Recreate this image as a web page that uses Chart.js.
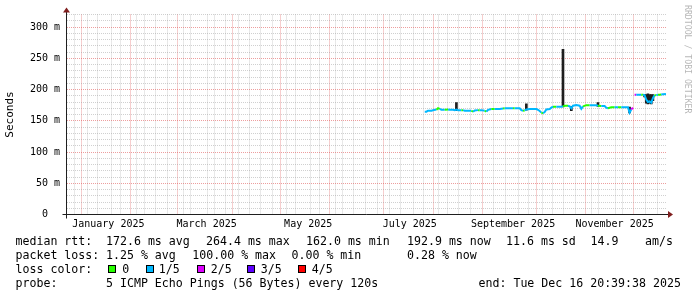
<!DOCTYPE html>
<html><head><meta charset="utf-8">
<script src="https://cdn.jsdelivr.net/npm/chart.js@4.4.1/dist/chart.umd.min.js"></script>
<style>html,body{margin:0;padding:0;background:#fff;overflow:hidden}canvas{display:block}</style>
</head><body>
<canvas id="c" width="697" height="297" style="width:697px;height:297px"></canvas>
<script>
// ---- data ----
const dates = ['2025-07-25','2025-07-26','2025-07-27','2025-07-29','2025-07-31','2025-08-01','2025-08-02','2025-08-03','2025-08-04','2025-08-06',
'2025-08-08','2025-08-09','2025-08-11','2025-08-12','2025-08-13','2025-08-14','2025-08-16','2025-08-17','2025-08-18','2025-08-20',
'2025-08-22','2025-08-23','2025-08-24','2025-08-26','2025-08-27','2025-08-28','2025-08-30','2025-08-31','2025-09-01','2025-09-03',
'2025-09-05','2025-09-06','2025-09-08','2025-09-10','2025-09-11','2025-09-12','2025-09-14','2025-09-16','2025-09-17','2025-09-18',
'2025-09-20','2025-09-21','2025-09-22','2025-09-23','2025-09-24','2025-09-26','2025-09-28','2025-09-30','2025-10-01','2025-10-02',
'2025-10-03','2025-10-04','2025-10-05','2025-10-06','2025-10-08','2025-10-09','2025-10-10','2025-10-12','2025-10-13','2025-10-15',
'2025-10-16','2025-10-17','2025-10-19','2025-10-20','2025-10-21','2025-10-22','2025-10-24','2025-10-26','2025-10-27','2025-10-28',
'2025-10-30','2025-11-01','2025-11-03','2025-11-05','2025-11-06','2025-11-08','2025-11-10','2025-11-11','2025-11-12','2025-11-14',
'2025-11-16','2025-11-18','2025-11-20','2025-11-22','2025-11-24','2025-11-25','2025-11-26','2025-11-27','2025-11-27T14:00','2025-11-28',
'2025-11-29','2025-11-30','2025-12-02','2025-12-03','2025-12-04','2025-12-05','2025-12-06','2025-12-07','2025-12-08','2025-12-09',
'2025-12-10','2025-12-11','2025-12-12','2025-12-13','2025-12-14','2025-12-15','2025-12-16T20:00'];
const medianMs = [164.5,164.5,166,166,167.5,167.5,170,169,167.5,167.5,
168,167.5,167.5,167,168,167,167,167,166,166,
166,164.5,166.5,167,167,167,166,164.5,167.5,168.8,
168.8,168.8,168.8,169.5,170,170,170,170,170,170,
170,167,166,166.5,168,168.8,168.8,168.8,167.5,165.5,
163,162.0,164,168,168.8,171,172.5,172.5,172.5,172.5,
173,174,174,173,170,174,175,174,169,173,
175,175,175,175,174,173.6,173.6,171,170,171.5,
171.5,171.5,171.5,171.5,171.5,163,168,171,null,191.5,
191.5,191.7,191.7,191.5,191,184,180,181,179,186,
191,191,191.5,191.5,192,192.5,192.9];
const lossPings = [1,1,1,1,1,1,0,0,1,1,
0,1,1,1,1,1,1,0,1,1,
1,0,1,1,0,1,1,0,1,1,
0,1,1,1,0,1,1,1,0,1,
1,1,1,0,1,1,1,1,1,1,
1,0,1,1,1,1,1,0,1,1,
1,0,0,1,1,1,1,1,1,1,
0,0,1,1,1,0,1,1,1,0,
0,1,0,1,1,1,1,2,0,2,
2,1,1,0,1,1,1,1,1,1,
1,0,1,0,0,1,1];
const smokeDates = ['2025-08-13','2025-09-24','2025-10-16','2025-10-21','2025-11-06','2025-11-25','2025-12-04','2025-12-05','2025-12-06','2025-12-07','2025-12-08','2025-12-09'];
const smokeLow  = [166,167,172,166,173,162.5,188,178,177,178,177,182];
const smokeHigh = [179,177,264.4,173,179,172,192,192,193,192,192,192];
const yTickValues = [0,10,20,30,40,50,60,70,80,90,100,110,120,130,140,150,160,170,180,190,200,210,220,230,240,250,260,270,280,290,300,310,320];
const yLabelEvery = 50;
const monthStarts = ['2025-01-01','2025-02-01','2025-03-01','2025-04-01','2025-05-01','2025-06-01','2025-07-01','2025-08-01','2025-09-01','2025-10-01','2025-11-01','2025-12-01'];
const monthLabelDates = ['2025-01-16','2025-03-16','2025-05-16','2025-07-16','2025-09-16','2025-11-16'];
const monthLabels = ['January 2025','March 2025','May 2025','July 2025','September 2025','November 2025'];
const lossLabels = ['0','1/5','2/5','3/5','4/5'];
const lossColors = ['#26ff00','#00b8ff','#dd00ff','#5e00ff','#ff0000'];
const endStamp = Date.UTC(2025,11,16,20,39,38);
const spanDays = 360;

// ---- helpers ----
const DAY = 864e5, T0 = Date.UTC(2025,0,1);
const toDay = s => (Date.parse(s.length === 10 ? s + 'T00:00:00Z' : s + ':00Z') - T0) / DAY;
const xMax = (endStamp - T0) / DAY, xMin = xMax - spanDays;
const majorSet = new Set(monthStarts.map(toDay));
const labelMap = new Map(monthLabelDates.map((d,i)=>[toDay(d), monthLabels[i]]));
const mondays = [];
for (let d = 5; d >= xMin; d -= 7) mondays.push(d);
for (let d = 12; d <= xMax; d += 7) mondays.push(d);
const xTickValues = [...new Set([...mondays, ...majorSet, ...labelMap.keys()])].sort((a,b)=>a-b);

const MONO = '"DejaVu Sans Mono", monospace';
const GRID = 'rgba(143,143,143,0.42)';
const MGRID = 'rgba(222,79,79,0.55)';
const CLEAR = 'rgba(0,0,0,0)';

const lineData = dates.map((d,i)=>({x: toDay(d), y: medianMs[i]}));
const smokeData = smokeDates.map((d,i)=>({x: toDay(d), y: [smokeLow[i], smokeHigh[i]]}));

const legendRows = [
  {y:245, items:[[15.5,'median rtt:'],[106,'172.6 ms avg'],[206,'264.4 ms max'],[306,'162.0 ms min'],[407,'192.9 ms now'],[506,'11.6 ms sd'],[590.5,'14.9'],[645,'am/s']]},
  {y:259, items:[[15.5,'packet loss:'],[106,'1.25 % avg'],[192.3,'100.00 % max'],[291.5,'0.00 % min'],[407,'0.28 % now']]},
  {y:273, items:[[15.5,'loss color:']]},
  {y:287, items:[[15.5,'probe:'],[106,'5 ICMP Echo Pings (56 Bytes) every 120s'],[478.5,'end: Tue Dec 16 20:39:38 2025']]}
];
const swatchX = [108,146,197,247,298];
const swatchTextX = [122.3,158.8,210.7,260.7,311.7];

const xGridColor = c => {
  const v = c && c.tick ? c.tick.value : null;
  if (v === null) return GRID;
  if (labelMap.has(v)) return CLEAR;
  return majorSet.has(v) ? MGRID : GRID;
};
const yGridColor = c => {
  const v = c && c.tick ? c.tick.value : null;
  if (v === null) return GRID;
  return (v % yLabelEvery === 0) ? MGRID : GRID;
};

const overlay = {
  id: 'overlay',
  afterDraw(chart) {
    const ctx = chart.ctx, a = chart.chartArea;
    ctx.save();
    ctx.strokeStyle = '#1f1f1f'; ctx.lineWidth = 1;
    ctx.beginPath();
    ctx.moveTo(a.left - 4, a.bottom); ctx.lineTo(a.right + 4, a.bottom);
    ctx.moveTo(a.left, a.bottom + 4); ctx.lineTo(a.left, a.top - 4);
    ctx.stroke();
    ctx.fillStyle = '#801f1f';
    ctx.beginPath();
    ctx.moveTo(a.right + 2, a.bottom - 3.5); ctx.lineTo(a.right + 2, a.bottom + 3.5); ctx.lineTo(a.right + 7, a.bottom); ctx.closePath(); ctx.fill();
    ctx.beginPath();
    ctx.moveTo(a.left - 3.5, a.top - 2); ctx.lineTo(a.left + 3.5, a.top - 2); ctx.lineTo(a.left, a.top - 7); ctx.closePath(); ctx.fill();
    ctx.fillStyle = '#000';
    ctx.font = '11.6px ' + MONO;
    ctx.textBaseline = 'alphabetic'; ctx.textAlign = 'left';
    legendRows.forEach(r => r.items.forEach(([x,t]) => ctx.fillText(t, x, r.y)));
    lossLabels.forEach((t,i) => {
      ctx.fillStyle = lossColors[i];
      ctx.fillRect(swatchX[i] + 1, 266, 6, 6);
      ctx.strokeStyle = '#000'; ctx.lineWidth = 1;
      ctx.strokeRect(swatchX[i] + 0.5, 265.5, 7, 7);
      ctx.fillStyle = '#000';
      ctx.fillText(t, swatchTextX[i], 273);
    });
    ctx.translate(684.5, 5);
    ctx.rotate(Math.PI / 2);
    ctx.font = '8.2px ' + MONO;
    ctx.fillStyle = 'rgba(0,0,0,0.3)';
    ctx.fillText('RRDTOOL / TOBI OETIKER', 0, 0);
    ctx.restore();
  }
};

new Chart(document.getElementById('c'), {
  type: 'line',
  data: {
    datasets: [
      {
        type: 'line', data: lineData, order: 0,
        borderWidth: 2, pointRadius: 0, tension: 0, spanGaps: false, fill: false,
        borderColor: lossColors[1],
        segment: { borderColor: c => lossColors[lossPings[c.p1DataIndex]] }
      },
      {
        type: 'bar', data: smokeData, order: 1,
        backgroundColor: '#1e1e1e', borderWidth: 0, barThickness: 2, grouped: false
      }
    ]
  },
  options: {
    responsive: false, animation: false, devicePixelRatio: 1,
    layout: { padding: { left: 0, top: 14.5, right: 31, bottom: 0 } },
    plugins: { legend: { display: false }, tooltip: { enabled: false } },
    scales: {
      x: {
        type: 'linear', min: xMin, max: xMax, offset: false,
        afterBuildTicks: s => { s.ticks = xTickValues.map(v => ({ value: v })); },
        afterFit: s => { s.height = 82.5; },
        grid: { drawTicks: false, lineWidth: 1, color: xGridColor },
        border: { display: false, dash: [1,1] },
        ticks: {
          autoSkip: false, maxRotation: 0, minRotation: 0, padding: 4,
          font: { family: MONO, size: 10 }, color: '#000',
          callback: v => labelMap.get(v) || ''
        }
      },
      y: {
        type: 'linear', min: 0, max: 320, position: 'left',
        afterBuildTicks: s => { s.ticks = yTickValues.map(v => ({ value: v })); },
        afterFit: s => { s.width = 66.5; },
        grid: { drawTicks: false, lineWidth: 1, color: yGridColor },
        border: { display: false, dash: [1,1] },
        title: { display: true, text: 'Seconds', font: { family: MONO, size: 11 }, color: '#000', padding: { top: 4, bottom: 0 } },
        ticks: {
          autoSkip: false, padding: 6.5,
          font: { family: MONO, size: 10 }, color: '#000',
          callback: v => v % yLabelEvery !== 0 ? '' : (v === 0 ? '  0  ' : String(v).padStart(3, ' ') + ' m')
        }
      }
    }
  },
  plugins: [overlay]
});
</script>
</body></html>
